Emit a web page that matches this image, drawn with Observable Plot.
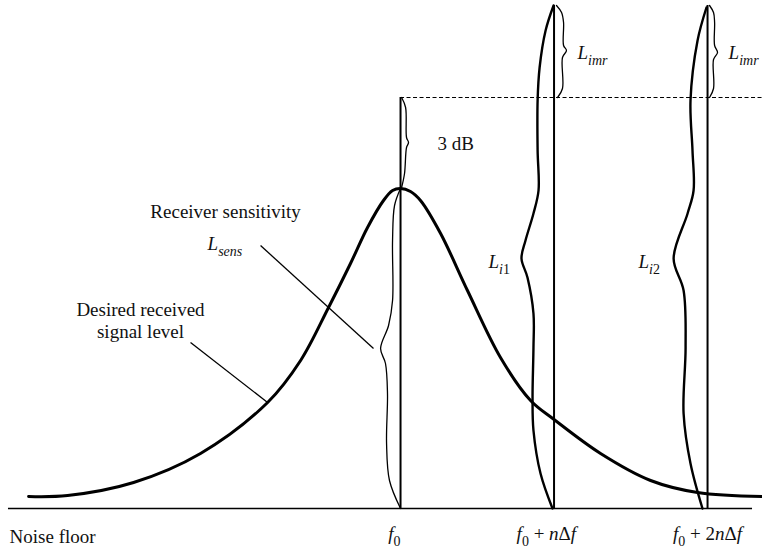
<!DOCTYPE html>
<html>
<head>
<meta charset="utf-8">
<script src="https://cdn.jsdelivr.net/npm/d3@7"></script>
<script src="https://cdn.jsdelivr.net/npm/@observablehq/plot@0.6"></script>
<style>
  html, body { margin: 0; padding: 0; background: #fff; }
  #chart svg { display: block; }
  #chart svg text { font-family: "Liberation Serif", "Times New Roman", serif !important; }
</style>
</head>
<body>
<div id="chart"></div>
<script>
// x: frequency offset from f0 in units of nΔf ; y: level above the noise floor (arbitrary units)

// Desired received signal (selectivity-shaped curve)
const curveX = [-2.423, -2.169, -1.739, -1.303, -0.866, -0.651, -0.469, -0.326, -0.215, -0.111, -0.052, 0,
                0.065, 0.130, 0.261, 0.436, 0.651, 0.847, 1.0, 1.303, 1.629, 1.935, 2.358];
const curveY = [1.2, 1.3, 2.6, 5.5, 10.6, 14.8, 20.1, 24.5, 28.1, 30.8, 31.8, 32.0,
                31.7, 30.8, 27.5, 21.8, 15.1, 10.8, 8.9, 5.5, 2.8, 1.6, 1.2];

// Carrier positions and the height of their vertical lines
const carrierX = [0, 1, 2];
const carrierTop = [41.1, 50.3, 50.3];
const carrierLabels = ["*f*_0", "*f*_0 + *n*Δ*f*", "*f*_0 + 2*n*Δ*f*"];
const carrierLabelX = [-0.04, 0.95, 2.0];

// Noise floor and 3 dB reference level
const floorLevel = 0;
const floorFrom = -2.554, floorTo = 2.293;
const refLevel = 41.1;
const refFrom = 0, refTo = 2.358;

// Braces (x, y pairs)
const braceSensX = [0, -0.039, -0.052, -0.052, -0.078, -0.130, -0.098, -0.085, -0.091, -0.072, 0];
const braceSensY = [32.0, 30.3, 26.8, 20.8, 18.3, 16.0, 14.5, 11.5, 6.5, 2.8, 0];
const brace3dbX = [0.007, 0.033, 0.039, 0.052, 0.039, 0.026, 0.007];
const brace3dbY = [41.1, 40.1, 37.1, 36.6, 36.1, 33.5, 32.1];
const braceImr1X = [1.016, 1.049, 1.062, 1.062, 1.081, 1.055, 1.055, 1.023];
const braceImr1Y = [50.3, 49.6, 48.6, 46.3, 45.8, 45.1, 42.0, 41.1];
const braceImr2X = [2.013, 2.039, 2.046, 2.046, 2.065, 2.039, 2.039, 2.013];
const braceImr2Y = [50.3, 49.6, 48.6, 46.3, 45.6, 44.9, 42.0, 41.1];
const braceI1X = [0.997, 0.945, 0.906, 0.893, 0.893, 0.899, 0.866, 0.814, 0.788, 0.827, 0.866, 0.866, 0.860, 0.866, 0.912, 0.990];
const braceI1Y = [50.3, 47.8, 44.1, 40.8, 35.8, 31.8, 29.5, 26.8, 25.0, 23.1, 19.5, 16.1, 11.1, 7.8, 3.5, 0];
const braceI2X = [1.993, 1.935, 1.889, 1.902, 1.909, 1.870, 1.779, 1.844, 1.857, 1.844, 1.889, 1.967];
const braceI2Y = [50.1, 46.8, 40.8, 35.8, 31.8, 29.5, 25.0, 21.8, 16.1, 9.5, 4.5, 0];

// Leader lines
const leaderX1 = [-0.912, -1.368], leaderY1 = [26.3, 16.6];
const leaderX2 = [-0.176, -0.866], leaderY2 = [16.0, 10.6];

// Annotations
const annText   = ["Receiver sensitivity", "*L_{sens}*", "Desired received\nsignal level", "3 dB",
                   "*L_{imr}*", "*L_{imr}*", "*L*_{*i*1}", "*L*_{*i*2}", "Noise floor"];
const annX      = [-1.140, -1.257, -1.694, 0.241, 1.153, 2.137, 0.573, 1.550, -2.547];
const annY      = [29.8, 26.6, 18.9, 36.6, 45.7, 45.7, 24.8, 24.8, -2.7];
const annAnchor = ["middle", "start", "middle", "start", "start", "start", "start", "start", "start"];

// ---- build tables ----
const pts = (xs, ys, id) => xs.map((x, i) => ({x, y: ys[i], id}));
const curve = pts(curveX, curveY, "signal");
const thinBraces = [
  ...pts(braceSensX, braceSensY, "sens"),
  ...pts(brace3dbX, brace3dbY, "3db"),
  ...pts(braceImr1X, braceImr1Y, "imr1"),
  ...pts(braceImr2X, braceImr2Y, "imr2")
];
const thickBraces = [...pts(braceI1X, braceI1Y, "i1"), ...pts(braceI2X, braceI2Y, "i2")];
const carriers = carrierX.map((x, i) => ({x, top: carrierTop[i], label: carrierLabels[i], lx: carrierLabelX[i]}));
const leaders = leaderX1.map((x1, i) => ({x1, y1: leaderY1[i], x2: leaderX2[i], y2: leaderY2[i]}));
const anns = annText.map((t, i) => ({t, x: annX[i], y: annY[i], a: annAnchor[i]}));

const FS = 19;
const FONT = "'Liberation Serif', 'Times New Roman', serif";
const textOpts = (anchor) => ({x: "x", y: "y", text: "t", textAnchor: anchor, lineAnchor: "middle", lineHeight: 1.16, fontSize: FS, fontFamily: FONT, fill: "#111"});
const chart = Plot.plot({
  width: 762,
  height: 550,
  margin: 0,
  x: {domain: [-2.606, 2.358], axis: null},
  y: {domain: [-4.2, 50.8], axis: null},
  style: {fontFamily: FONT, fontSize: FS + "px", background: "#fff", color: "#000"},
  marks: [
    Plot.ruleY([floorLevel], {x1: floorFrom, x2: floorTo, stroke: "#000", strokeWidth: 1.6}),
    Plot.ruleY([refLevel], {x1: refFrom, x2: refTo, stroke: "#000", strokeWidth: 1.1, strokeDasharray: "4,2.5"}),
    Plot.ruleX(carriers, {x: "x", y1: 0, y2: "top", stroke: "#000", strokeWidth: 2}),
    Plot.line(thinBraces, {x: "x", y: "y", z: "id", curve: "catmull-rom", stroke: "#000", strokeWidth: 1.3}),
    Plot.line(thickBraces, {x: "x", y: "y", z: "id", curve: "catmull-rom", stroke: "#000", strokeWidth: 2.4}),
    Plot.link(leaders, {x1: "x1", y1: "y1", x2: "x2", y2: "y2", stroke: "#000", strokeWidth: 1.3}),
    Plot.line(curve, {x: "x", y: "y", curve: "catmull-rom", stroke: "#000", strokeWidth: 3}),
    Plot.text(anns.filter((d) => d.a === "start"), textOpts("start")),
    Plot.text(anns.filter((d) => d.a === "middle"), textOpts("middle")),
    Plot.text(carriers, {x: "lx", y: -2.55, text: "label", textAnchor: "middle", lineAnchor: "middle", fontSize: FS, fontFamily: FONT, fill: "#111"})
  ]
});
document.getElementById("chart").appendChild(chart);

// ---- rich text: *italic* and _{subscript} ----
function parseRuns(str) {
  const out = [];
  let italic = false, i = 0;
  while (i < str.length) {
    const c = str[i];
    if (c === "*") { italic = !italic; i++; continue; }
    if (c === "_") {
      let t;
      if (str[i + 1] === "{") { const j = str.indexOf("}", i); t = str.slice(i + 2, j); i = j + 1; }
      else { t = str[i + 1]; i += 2; }
      let subItalic = italic, buf = "";
      for (const ch of t) {
        if (ch === "*") { if (buf) out.push({t: buf, italic: subItalic, sub: true}); buf = ""; subItalic = !subItalic; }
        else buf += ch;
      }
      if (buf) out.push({t: buf, italic: subItalic, sub: true});
      continue;
    }
    const last = out[out.length - 1];
    if (last && last.italic === italic && !last.sub) last.t += c;
    else out.push({t: c, italic, sub: false});
    i++;
  }
  return out;
}
d3.select(chart).selectAll("text").each(function () {
  const el = this;
  if (el.querySelector("tspan")) return;
  const s = el.textContent;
  if (!/[*_]/.test(s)) return;
  const runs = parseRuns(s);
  el.textContent = "";
  let shifted = false;
  const drop = Math.round(FS * 0.3);
  for (const r of runs) {
    const ts = d3.select(el).append("tspan").text(r.t);
    if (r.italic) ts.attr("font-style", "italic");
    if (r.sub) {
      ts.attr("font-size", Math.round(FS * 0.74));
      if (!shifted) { ts.attr("dy", drop); shifted = true; }
    } else if (shifted) {
      ts.attr("dy", -drop); shifted = false;
    }
  }
});
</script>
</body>
</html>
